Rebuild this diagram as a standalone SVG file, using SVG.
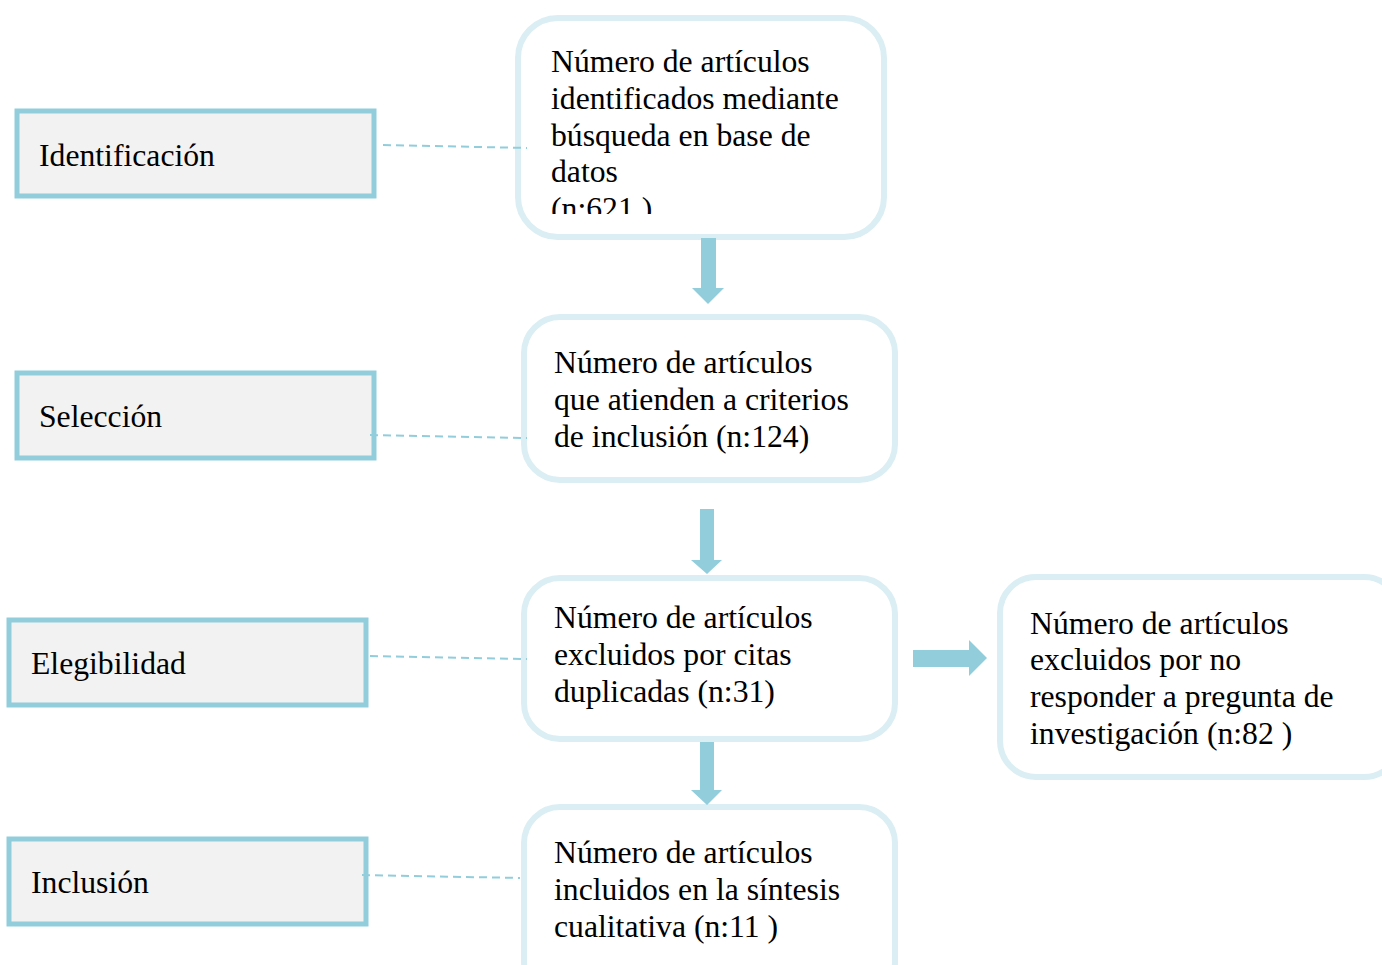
<svg xmlns="http://www.w3.org/2000/svg" width="1382" height="965" viewBox="0 0 1382 965">
<style>
.lbl rect{fill:#F2F2F2;stroke:#92CDDC;stroke-width:5}
.box rect{fill:#FFFFFF;stroke:#DAEEF3;stroke-width:6}
text{font-family:"Liberation Serif","Times New Roman",serif;font-size:31.7px;fill:#000}
.dash line{stroke:#92CDDC;stroke-width:2;stroke-dasharray:8 5;fill:none}
.arr path{fill:#92CDDC}
</style>
<defs>
<clipPath id="c1"><rect x="521" y="20" width="360" height="194"/></clipPath>
</defs>
<rect width="1382" height="965" fill="#FFFFFF"/>

<g id="identificacion" class="lbl">
<rect x="17" y="111" width="357" height="85"/>
<text x="39" y="166">Identificación</text>
</g>
<g id="seleccion" class="lbl">
<rect x="17" y="373" width="357" height="85"/>
<text x="39" y="427">Selección</text>
</g>
<g id="elegibilidad" class="lbl">
<rect x="9" y="620" width="357" height="85"/>
<text x="31" y="674">Elegibilidad</text>
</g>
<g id="inclusion" class="lbl">
<rect x="9" y="839" width="357" height="85"/>
<text x="31" y="893">Inclusión</text>
</g>

<g id="n1" class="box">
<rect x="518" y="18" width="366" height="219" rx="40"/>
<g clip-path="url(#c1)">
<text x="551" y="72">Número de artículos</text>
<text x="551" y="109">identificados mediante</text>
<text x="551" y="146">búsqueda en base de</text>
<text x="551" y="182">datos</text>
<text x="551" y="219">(n:621 )</text>
</g>
</g>
<g id="n2" class="box">
<rect x="524" y="317" width="371" height="163" rx="36"/>
<text x="554" y="373">Número de artículos</text>
<text x="554" y="410">que atienden a criterios</text>
<text x="554" y="447">de inclusión (n:124)</text>
</g>
<g id="n3" class="box">
<rect x="524" y="578" width="371" height="161" rx="36"/>
<text x="554" y="628">Número de artículos</text>
<text x="554" y="665">excluidos por citas</text>
<text x="554" y="702">duplicadas (n:31)</text>
</g>
<g id="n4" class="box">
<rect x="1000" y="577" width="400" height="200" rx="36"/>
<text x="1030" y="634">Número de artículos</text>
<text x="1030" y="670">excluidos por no</text>
<text x="1030" y="707">responder a pregunta de</text>
<text x="1030" y="744">investigación (n:82 )</text>
</g>
<g id="n5" class="box">
<rect x="524" y="807" width="371" height="190" rx="36"/>
<text x="554" y="863">Número de artículos</text>
<text x="554" y="900">incluidos en la síntesis</text>
<text x="554" y="937">cualitativa (n:11 )</text>
</g>

<g id="connectors">
<g class="dash">
<line x1="383" y1="145" x2="527" y2="148"/>
<line x1="370" y1="435" x2="527" y2="438"/>
<line x1="370" y1="656" x2="527" y2="659"/>
<line x1="362" y1="875" x2="520" y2="878"/>
</g>
<g class="arr">
<path d="M701,238 H716 V288 H724 L708,304 L692,288 H701 Z"/>
<path d="M700,509 H714 V560 H722 L707,574 L691,560 H700 Z"/>
<path d="M700,742 H714 V790 H722 L707,805 L691,790 H700 Z"/>
<path d="M913,650 H969 V640 L987,658 L969,676 V667 H913 Z"/>
</g>
</g>
</svg>
